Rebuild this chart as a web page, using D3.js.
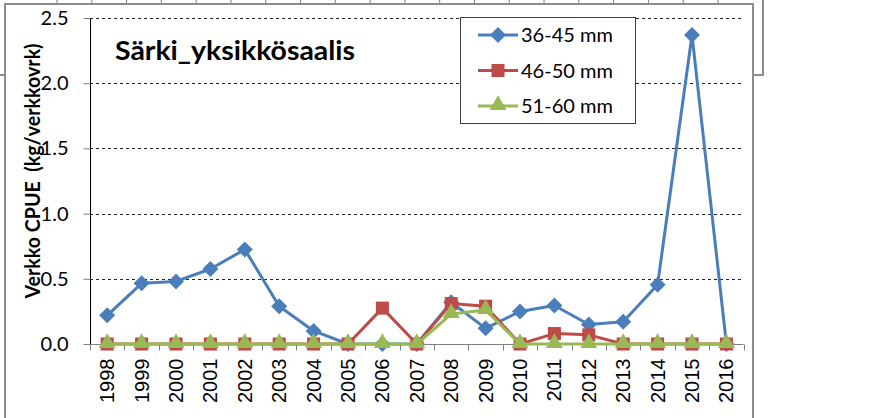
<!DOCTYPE html>
<html>
<head>
<meta charset="utf-8">
<script src="https://cdn.jsdelivr.net/npm/d3@7"></script>
<style>
  html, body { margin: 0; padding: 0; background: #fff; }
  svg { display: block; }
</style>
</head>
<body>
<svg id="chart" width="893" height="418"></svg>
<script>
// Vuodet x-akselilla
const years = ['1998', '1999', '2000', '2001', '2002', '2003', '2004', '2005', '2006', '2007',
  '2008', '2009', '2010', '2011', '2012', '2013', '2014', '2015', '2016'];

// Sarjat luettu kuvasta (kg/verkkovrk)
const s36_45 = [0.22, 0.465, 0.48, 0.575, 0.725, 0.29, 0.1, 0, 0, 0,
  0.32, 0.12, 0.25, 0.295, 0.15, 0.17, 0.455, 2.37, 0];
const s46_50 = [0, 0, 0, 0, 0, 0, 0, 0, 0.275, 0,
  0.31, 0.29, 0, 0.08, 0.07, 0, 0, 0, 0];
const s51_60 = [0, 0, 0, 0, 0, 0, 0, 0, 0, 0,
  0.23, 0.26, 0, 0, 0, 0, 0, 0, 0];

const seriesNames = ['36-45 mm', '46-50 mm', '51-60 mm'];
const yTicks = [0, 0.5, 1.0, 1.5, 2.0, 2.5];
const titleText = 'Särki_yksikkösaalis';
const yLabel = 'Verkko CPUE  (kg/verkkovrk)';

const colors = ['#4A7EBB', '#BE4B48', '#98B954'];
const shapes = ['diamond', 'square', 'triangle'];

const svg = d3.select('#chart');
const calibri = 'Lato, "Open Sans", sans-serif';

// Takana näkyvä edellinen kaavio (vain reuna ja akselin tikit)
svg.append('rect')
  .attr('x', -20).attr('y', -60).attr('width', 783).attr('height', 135)
  .attr('fill', '#fff').attr('stroke', '#8c8c8c').attr('stroke-width', 2);
const bgX = d3.scaleBand().domain(years).range([57, 718]);
svg.append('g')
  .selectAll('line')
  .data(years.map((d) => bgX(d)).concat([bgX.range()[1]]))
  .join('line')
  .attr('x1', (d) => d).attr('x2', (d) => d)
  .attr('y1', 0).attr('y2', 3)
  .attr('stroke', '#7f7f7f').attr('stroke-width', 1);

// Pääkaavion kehys
svg.append('rect')
  .attr('x', 5).attr('y', 4).attr('width', 748).attr('height', 440)
  .attr('fill', '#fff').attr('stroke', '#8c8c8c').attr('stroke-width', 2);

const margin = { left: 90, right: 743.6, top: 18, bottom: 344 };
const x = d3.scaleBand().domain(years).range([margin.left, margin.right]);
const y = d3.scaleLinear().domain([0, 2.5]).range([margin.bottom, margin.top]);
const cx = (d) => x(d) + x.bandwidth() / 2;

// Vaakaviivat
svg.append('g')
  .selectAll('line')
  .data(yTicks.filter((d) => d > 0))
  .join('line')
  .attr('x1', margin.left).attr('x2', margin.right)
  .attr('y1', (d) => Math.round(y(d)) + 0.5).attr('y2', (d) => Math.round(y(d)) + 0.5)
  .attr('stroke', '#222').attr('stroke-width', 1).attr('stroke-dasharray', '3,3');

// Y-akseli
const yAxisG = svg.append('g')
  .attr('transform', `translate(${margin.left + 0.5},0)`)
  .call(d3.axisLeft(y).tickValues(yTicks).tickFormat(d3.format('.1f')).tickSize(7).tickSizeOuter(0).tickPadding(15));
yAxisG.select('.domain').attr('stroke', '#000').attr('d', `M0,${margin.top}V${margin.bottom}`);
yAxisG.selectAll('.tick line').attr('stroke', '#7f7f7f');
yAxisG.selectAll('.tick text')
  .attr('font-family', calibri).attr('font-size', 20).attr('fill', '#000');

// X-akseli: tikit luokkien rajoilla
const xAxisG = svg.append('g').attr('transform', `translate(0,${margin.bottom + 0.5})`);
xAxisG.append('line')
  .attr('x1', margin.left).attr('x2', margin.right)
  .attr('stroke', '#7f7f7f').attr('stroke-width', 1);
xAxisG.selectAll('line.bound')
  .data(years.map((d) => x(d)).concat([x.range()[1]]))
  .join('line')
  .attr('class', 'bound')
  .attr('x1', (d) => Math.round(d) + 0.5).attr('x2', (d) => Math.round(d) + 0.5)
  .attr('y1', 0).attr('y2', 6)
  .attr('stroke', '#7f7f7f');
xAxisG.selectAll('text')
  .data(years)
  .join('text')
  .attr('transform', (d) => `translate(${cx(d) + 7},14) rotate(-90)`)
  .attr('text-anchor', 'end')
  .attr('font-family', '"Liberation Sans", Arial, sans-serif')
  .attr('font-size', 20)
  .attr('fill', '#000')
  .text((d) => d);

// Y-akselin otsikko
svg.append('text')
  .attr('transform', `translate(40,171) rotate(-90)`)
  .attr('text-anchor', 'middle')
  .attr('font-family', calibri).attr('font-weight', 'bold').attr('font-size', 20)
  .attr('textLength', 255).attr('lengthAdjust', 'spacingAndGlyphs')
  .style('white-space', 'pre')
  .text(yLabel);

// Otsikko
svg.append('text')
  .attr('x', 115).attr('y', 60)
  .attr('font-family', calibri).attr('font-weight', 'bold').attr('font-size', 26)
  .attr('textLength', 240).attr('lengthAdjust', 'spacingAndGlyphs')
  .attr('fill', '#000')
  .text(titleText);

function markerPath(shape) {
  if (shape === 'diamond') return d3.symbol(d3.symbolSquare, 128)();
  if (shape === 'square') return d3.symbol(d3.symbolSquare, 170)();
  return d3.symbol(d3.symbolTriangle, 125)();
}
function markerTransform(shape, px, py) {
  if (shape === 'diamond') return `translate(${px},${py}) rotate(45)`;
  if (shape === 'triangle') return `translate(${px},${py - 1})`;
  return `translate(${px},${py})`;
}

const allSeries = [s36_45, s46_50, s51_60].map((vals, i) => ({
  name: seriesNames[i],
  color: colors[i],
  shape: shapes[i],
  values: years.map((yr, j) => ({ year: yr, v: vals[j] }))
}));

const line = d3.line().x((d) => cx(d.year)).y((d) => y(d.v));

allSeries.forEach((s) => {
  const g = svg.append('g');
  g.append('path')
    .datum(s.values)
    .attr('d', line)
    .attr('fill', 'none')
    .attr('stroke', s.color)
    .attr('stroke-width', 3)
    .attr('stroke-linejoin', 'round');
  g.selectAll('path.marker')
    .data(s.values)
    .join('path')
    .attr('class', 'marker')
    .attr('d', markerPath(s.shape))
    .attr('transform', (d) => markerTransform(s.shape, cx(d.year), y(d.v)))
    .attr('fill', s.color);
});

// Selite
const legend = svg.append('g').attr('transform', 'translate(460,17)');
legend.append('rect')
  .attr('x', 0.5).attr('y', 0.5).attr('width', 175).attr('height', 106)
  .attr('fill', '#fff').attr('stroke', '#404040').attr('stroke-width', 1);
const rowY = d3.scalePoint().domain(seriesNames).range([18, 89]);
allSeries.forEach((s) => {
  const ry = rowY(s.name);
  legend.append('line')
    .attr('x1', 18).attr('x2', 58).attr('y1', ry).attr('y2', ry)
    .attr('stroke', s.color).attr('stroke-width', 3);
  legend.append('path')
    .attr('d', markerPath(s.shape))
    .attr('transform', markerTransform(s.shape, 38, ry))
    .attr('fill', s.color);
  legend.append('text')
    .attr('x', 61).attr('y', ry + 7)
    .attr('font-family', calibri).attr('font-size', 20)
    .attr('fill', '#000')
    .text(s.name);
});
</script>
</body>
</html>
